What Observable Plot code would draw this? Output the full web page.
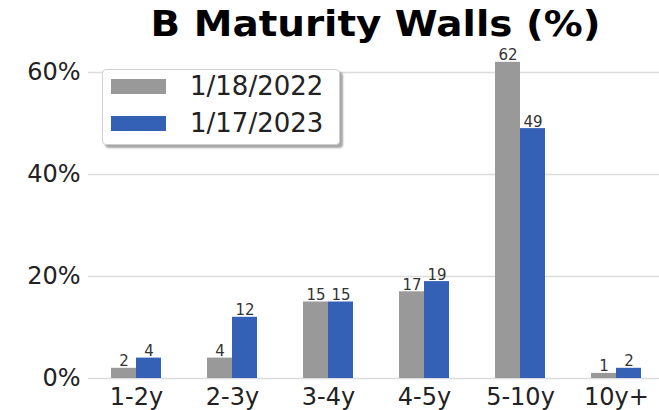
<!DOCTYPE html>
<html>
<head>
<meta charset="utf-8">
<script src="https://cdn.jsdelivr.net/npm/d3@7"></script>
<script src="https://cdn.jsdelivr.net/npm/@observablehq/plot@0.6"></script>
<style>
  html, body { margin: 0; padding: 0; background: #fff; overflow: hidden; }
  #wrap { position: relative; width: 659px; height: 410px; font-family: "DejaVu Sans", sans-serif; }
  #title { position: absolute; left: 90px; width: 571px; top: 3px; text-align: center; font-weight: bold; font-size: 36px; color: #000; white-space: nowrap; transform: scaleX(1.08); transform-origin: 50% 50%; }
  #legend { position: absolute; left: 102px; top: 69px; width: 236px; height: 74px; background: #fff; border: 1px solid #d0d0d0; border-radius: 4px; box-shadow: 3px 3px 2px rgba(0,0,0,0.35); }
  .row { position: absolute; left: 8px; display: flex; align-items: center; font-size: 26px; color: #222; }
  .sw { width: 55px; height: 15px; margin-right: 24px; }
</style>
</head>
<body>
<div id="wrap">
  <div id="chart"></div>
  <div id="title">B Maturity Walls (%)</div>
  <div id="legend"></div>
</div>
<script>
const categories = ["1-2y", "2-3y", "3-4y", "4-5y", "5-10y", "10y+"];
const seriesNames = ["1/18/2022", "1/17/2023"];
const values2022 = [2, 4, 15, 17, 62, 1];
const values2023 = [4, 12, 15, 19, 49, 2];
const colors = ["#999999", "#3460b6"];
const yTicks = [0, 20, 40, 60];

const rows2022 = categories.map((c, i) => ({cat: c, v: values2022[i]}));
const rows2023 = categories.map((c, i) => ({cat: c, v: values2023[i]}));

const chart = Plot.plot({
  width: 659,
  height: 410,
  marginTop: 46,
  marginBottom: 32,
  marginLeft: 88,
  marginRight: 0,
  style: {fontFamily: "DejaVu Sans, sans-serif", background: "#fff"},
  x: {domain: categories, range: [88, 664], paddingInner: 0.48, paddingOuter: 0.2276, label: null, tickSize: 0, tickPadding: 9},
  y: {domain: [0, 65.1], ticks: yTicks, tickFormat: d => d + "%", label: null, tickSize: 0, tickPadding: 8},
  marks: [
    Plot.ruleY(yTicks, {stroke: "#dcdcdc", strokeWidth: 1.5}),
    Plot.barY(rows2022, {x: "cat", y: "v", fill: colors[0], insetRight: 25}),
    Plot.barY(rows2023, {x: "cat", y: "v", fill: colors[1], insetLeft: 25}),
    Plot.text(rows2022, {x: "cat", y: "v", text: d => String(d.v), dx: -12.5, dy: -2, lineAnchor: "bottom", fontSize: 15, fill: "#333"}),
    Plot.text(rows2023, {x: "cat", y: "v", text: d => String(d.v), dx: 12.5, dy: -2, lineAnchor: "bottom", fontSize: 15, fill: "#333"})
  ]
});
chart.style.fontSize = "24px";
chart.querySelectorAll("g[aria-label='x-axis tick label'] text, g[aria-label='y-axis tick label'] text").forEach(t => { t.style.fontSize = "24px"; t.setAttribute("fill", "#222"); });
document.getElementById("chart").appendChild(chart);

const legend = document.getElementById("legend");
seriesNames.forEach((name, i) => {
  const row = document.createElement("div");
  row.className = "row";
  row.style.top = (i === 0 ? 1 : 38) + "px";
  const sw = document.createElement("div");
  sw.className = "sw";
  sw.style.background = colors[i];
  const lab = document.createElement("span");
  lab.textContent = name;
  row.appendChild(sw);
  row.appendChild(lab);
  legend.appendChild(row);
});
</script>
</body>
</html>
